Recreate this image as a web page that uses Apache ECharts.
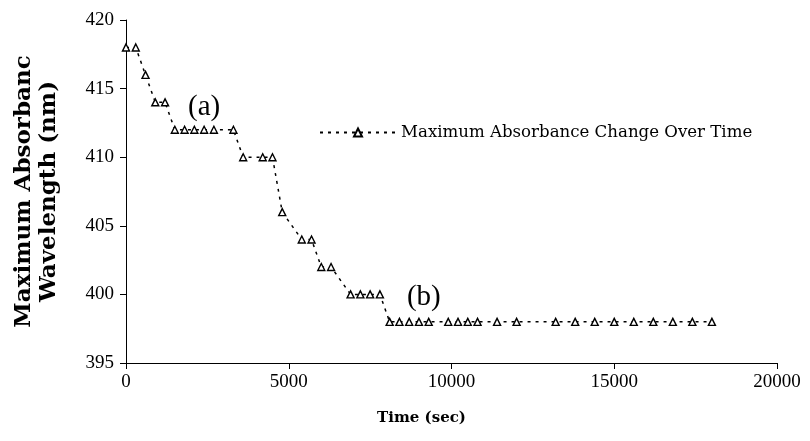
<!DOCTYPE html>
<html>
<head>
<meta charset="utf-8">
<script src="https://cdn.jsdelivr.net/npm/echarts@6/dist/echarts.min.js"></script>
<style>html,body{margin:0;padding:0;background:#fff}#c{width:810px;height:441px}</style>
</head>
<body>
<div id="c"></div>
<script>
const timeSec = [0,300,600,900,1200,1500,1800,2100,2400,2700,3300,3600,4200,4500,4800,5400,5700,6000,6300,6900,7200,7500,7800,8100,8400,8700,9000,9300,9900,10200,10500,10800,11400,12000,13200,13800,14400,15000,15600,16200,16800,17400,18000];
const wavelength = [418,418,416,414,414,412,412,412,412,412,412,410,410,410,406,404,404,402,402,400,400,400,400,398,398,398,398,398,398,398,398,398,398,398,398,398,398,398,398,398,398,398,398];
const seriesName = 'Maximum Absorbance Change Over Time';
const yTitle = 'Maximum Absorbanc\nWavelength (nm)';
const xTitle = 'Time (sec)';
const annotations = [{text:'(a)', x:2400, y:413.6},{text:'(b)', x:9150, y:399.8}];

const chart = echarts.init(document.getElementById('c'));
const serif = 'Liberation Serif';
const wide = 'DejaVu Serif';
chart.setOption({
  animation:false,
  backgroundColor:'#fff',
  grid:{left:126, right:33, top:20, bottom:78, containLabel:false, outerBoundsMode:'none'},
  legend:{
    show:true, left:314, top:119, itemWidth:76, itemHeight:10, itemGap:3,
    textStyle:{fontFamily:wide, fontSize:16.6, color:'#000'},
    data:[seriesName]
  },
  xAxis:{
    type:'value', min:0, max:20000, interval:5000,
    name:xTitle, nameLocation:'middle', nameGap:48,
    nameTextStyle:{fontFamily:wide, fontSize:15, fontWeight:'bold', color:'#000', padding:[0,60,0,0]},
    axisLine:{lineStyle:{color:'#000', width:1}},
    axisTick:{show:true, inside:false, length:6, lineStyle:{color:'#000'}},
    axisLabel:{fontFamily:serif, fontSize:19, color:'#000', margin:10, formatter:v=>String(v)},
    splitLine:{show:false}
  },
  yAxis:{
    type:'value', min:395, max:420, interval:5,
    name:yTitle, nameLocation:'middle', nameGap:64, nameRotate:90,
    nameTextStyle:{fontFamily:wide, fontSize:23, fontWeight:'bold', color:'#000', lineHeight:25},
    axisLine:{show:true, lineStyle:{color:'#000', width:1}},
    axisTick:{show:true, length:6, lineStyle:{color:'#000'}},
    axisLabel:{fontFamily:serif, fontSize:19, color:'#000', margin:12, formatter:v=>String(v)},
    splitLine:{show:false}
  },
  series:[{
    name:seriesName, type:'line',
    data: timeSec.map((t,i)=>[t, wavelength[i]]),
    symbol:'triangle', symbolSize:[7,7],
    itemStyle:{color:'#fff', borderColor:'#000', borderWidth:1.4},
    lineStyle:{color:'#000', width:1.5, type:[3,5]},
    emphasis:{disabled:true}
  }]
});
const g = annotations.map(a=>{
  const p = chart.convertToPixel({gridIndex:0}, [a.x, a.y]);
  return {type:'text', x:p[0], y:p[1], style:{text:a.text, font:'29px "Liberation Serif"', fill:'#000', textAlign:'center', textVerticalAlign:'middle'}};
});
chart.setOption({graphic:g});
</script>
</body>
</html>
